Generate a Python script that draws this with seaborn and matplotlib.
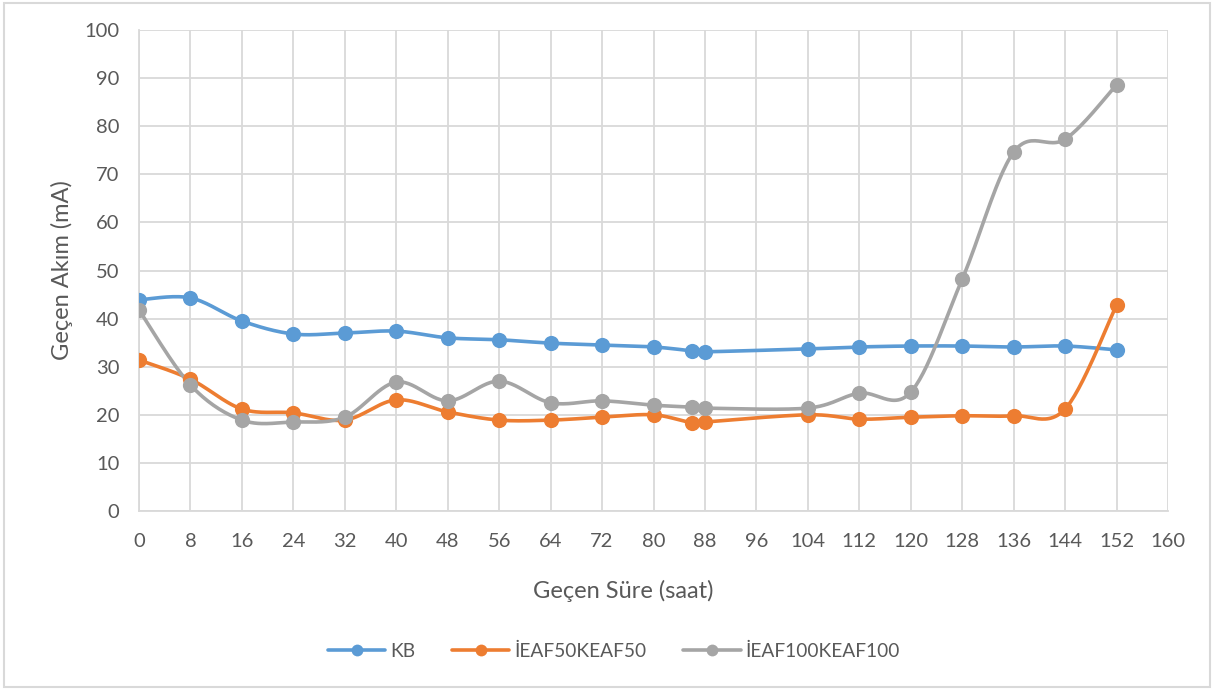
import numpy as np
import pandas as pd
import matplotlib
matplotlib.use("Agg")
import matplotlib.pyplot as plt
from matplotlib.lines import Line2D
from matplotlib.patches import Rectangle
import seaborn as sns

# Measurement times (hours)
hours = [0, 8, 16, 24, 32, 40, 48, 56, 64, 72, 80, 86, 88, 104, 112, 120, 128, 136, 144, 152]

# Current passed (mA) per specimen group
kb = [43.9, 44.3, 39.5, 36.8, 37.0, 37.4, 36.0, 35.6, 34.9, 34.5, 34.1, 33.3, 33.1,
      33.7, 34.1, 34.3, 34.3, 34.1, 34.3, 33.5]
ieaf50 = [31.4, 27.4, 21.2, 20.4, 18.9, 23.1, 20.6, 18.9, 18.9, 19.5, 20.0, 18.3, 18.5,
          20.0, 19.1, 19.5, 19.8, 19.8, 21.2, 42.8]
ieaf100 = [41.8, 26.2, 18.9, 18.5, 19.5, 26.8, 22.9, 27.0, 22.5, 22.9, 22.0, 21.6, 21.4,
           21.4, 24.5, 24.7, 48.2, 74.6, 77.3, 88.6]

series_names = ["KB", "İEAF50KEAF50", "İEAF100KEAF100"]
series_values = [kb, ieaf50, ieaf100]
colors = ["#5B9BD5", "#ED7D31", "#A5A5A5"]

x_ticks = list(range(0, 161, 8))
y_ticks = list(range(0, 101, 10))


def smooth_curve(xs, ys, n=30):
    """Cardinal (Catmull-Rom) Bezier smoothing through the points."""
    pts = np.column_stack([xs, ys]).astype(float)
    m = len(pts)
    out = [pts[0]]
    t = np.linspace(0, 1, n)[1:, None]
    for i in range(m - 1):
        p0 = pts[i - 1] if i > 0 else pts[i]
        p1, p2 = pts[i], pts[i + 1]
        p3 = pts[i + 2] if i + 2 < m else pts[i + 1]
        c1 = p1 + (p2 - p0) / 6.0
        c2 = p2 - (p3 - p1) / 6.0
        seg = ((1 - t) ** 3) * p1 + 3 * ((1 - t) ** 2) * t * c1 + 3 * (1 - t) * t ** 2 * c2 + t ** 3 * p2
        out.extend(seg)
    out = np.array(out)
    return out[:, 0], out[:, 1]


sns.set_theme(style="white")
plt.rcParams["font.family"] = ["Lato", "DejaVu Sans"]
text_color = "#595959"
grid_color = "#D9D9D9"

fig = plt.figure(figsize=(12.14, 6.90), dpi=100)
ax = fig.add_axes([139 / 1214, 1 - 511 / 690, (1168 - 139) / 1214, (511 - 30) / 690])

# outer chart border
fig.patches.append(Rectangle((4 / 1214, 3 / 690), 1206 / 1214, 684 / 690,
                             transform=fig.transFigure, fill=False,
                             edgecolor="#D9D9D9", linewidth=1.5))

handles = []
for name, vals, col in zip(series_names, series_values, colors):
    sx, sy = smooth_curve(hours, vals)
    ax.plot(sx, sy, color=col, linewidth=2.6, solid_capstyle="round", zorder=3)
    df = pd.DataFrame({"saat": hours, "mA": vals})
    sns.scatterplot(data=df, x="saat", y="mA", ax=ax, color=col, s=120,
                    edgecolor=col, linewidth=0, zorder=4, legend=False)
    handles.append(Line2D([0], [0], color=col, linewidth=2.6, marker="o",
                          markersize=8.5, markeredgewidth=0))

ax.set_xlim(0, 160)
ax.set_ylim(0, 100)
ax.set_xticks(x_ticks)
ax.set_yticks(y_ticks)
ax.grid(True, color=grid_color, linewidth=1.3)
ax.set_axisbelow(True)
for side in ["top", "right"]:
    ax.spines[side].set_visible(False)
for side in ["left", "bottom"]:
    ax.spines[side].set_color(grid_color)
    ax.spines[side].set_linewidth(1.3)

ax.tick_params(axis="both", length=0, labelsize=14.5, labelcolor=text_color)
ax.tick_params(axis="x", pad=16)
ax.tick_params(axis="y", pad=14)

ax.set_xlabel("Geçen Süre (saat)", fontsize=17, color=text_color)
ax.xaxis.set_label_coords(0.471, -0.143)
ax.set_ylabel("Geçen Akım (mA)", fontsize=17, color=text_color, labelpad=8)

fig.legend(handles=handles, labels=series_names, loc="center",
           bbox_to_anchor=(614 / 1214, 1 - 651 / 690), ncol=3, frameon=False,
           fontsize=13.8, labelcolor=text_color, handlelength=3.0,
           columnspacing=1.9, handletextpad=0.27)

fig.savefig("out.png", dpi=100, facecolor="white")
